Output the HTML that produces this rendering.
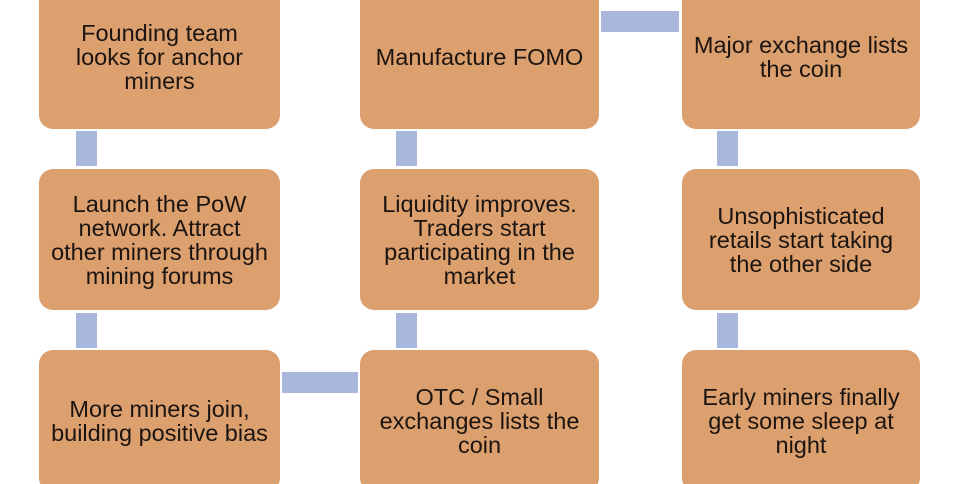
<!DOCTYPE html>
<html><head><style>
html,body{margin:0;padding:0;background:#fff;width:960px;height:484px;overflow:hidden;position:relative;font-family:"Liberation Sans",Arial,sans-serif}
.b{position:absolute;background:#dca06f;border-radius:14px;display:flex;align-items:center;justify-content:center;text-align:center;color:#1c1410;font-size:23.5px;line-height:24px;box-sizing:border-box;padding:0 2px;white-space:nowrap}
.c{position:absolute;background:#a9b7dc}
</style></head><body>
<div class="b" style="left:39px;top:-15px;width:241px;height:144px">Founding team<br>looks for anchor<br>miners</div>
<div class="b" style="left:360px;top:-15px;width:239px;height:144px">Manufacture FOMO</div>
<div class="b" style="left:682px;top:-15px;width:238px;height:144px">Major exchange lists<br>the coin</div>

<div class="b" style="left:39px;top:169px;width:241px;height:141px">Launch the PoW<br>network. Attract<br>other miners through<br>mining forums</div>
<div class="b" style="left:360px;top:169px;width:239px;height:141px">Liquidity improves.<br>Traders start<br>participating in the<br>market</div>
<div class="b" style="left:682px;top:169px;width:238px;height:141px">Unsophisticated<br>retails start taking<br>the other side</div>

<div class="b" style="left:39px;top:350px;width:241px;height:142px">More miners join,<br>building positive bias</div>
<div class="b" style="left:360px;top:350px;width:239px;height:142px">OTC / Small<br>exchanges lists the<br>coin</div>
<div class="b" style="left:682px;top:350px;width:238px;height:142px">Early miners finally<br>get some sleep at<br>night</div>

<div class="c" style="left:76px;top:131px;width:21px;height:35px"></div>
<div class="c" style="left:76px;top:313px;width:21px;height:35px"></div>
<div class="c" style="left:396px;top:131px;width:21px;height:35px"></div>
<div class="c" style="left:396px;top:313px;width:21px;height:35px"></div>
<div class="c" style="left:717px;top:131px;width:21px;height:35px"></div>
<div class="c" style="left:717px;top:313px;width:21px;height:35px"></div>
<div class="c" style="left:282px;top:372px;width:76px;height:21px"></div>
<div class="c" style="left:601px;top:11px;width:78px;height:21px"></div>
</body></html>
